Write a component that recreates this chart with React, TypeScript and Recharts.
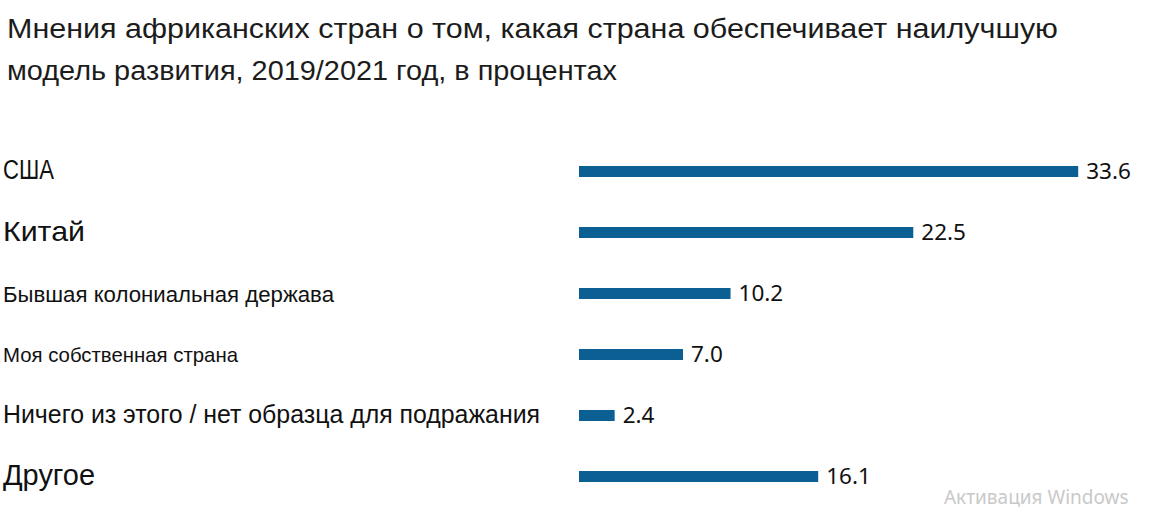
import React from 'react';
import { BarChart, Bar, XAxis, YAxis, LabelList } from 'recharts';

const categories = [
  'США',
  'Китай',
  'Бывшая колониальная держава',
  'Моя собственная страна',
  'Ничего из этого / нет образца для подражания',
  'Другое',
];
const shares = [33.6, 22.5, 10.2, 7.0, 2.4, 16.1];

const titleLines = [
  'Мнения африканских стран о том, какая страна обеспечивает наилучшую',
  'модель развития, 2019/2021 год, в процентах',
];

const data = categories.map((name, i) => ({ name, value: shares[i] }));

// the source image mixes label sizes and widths, so each row gets its own look
const tickLooks = [
  { size: 27, len: 51, dy: 7.5 },
  { size: 28, len: 82, dy: 8.5 },
  { size: 22, len: 331, dy: 8.5 },
  { size: 21, len: 235, dy: 7.5 },
  { size: 25, len: 537, dy: 7.5 },
  { size: 29, len: 92, dy: 8.5 },
];
const titleLooks = [
  { y: 38, len: 1051 },
  { y: 80, len: 610 },
];

const BAR_COLOR = '#0b5f93';
const SANS = '"Liberation Sans", Arial, sans-serif';

const CategoryTick = ({ y, payload, index }: any) => {
  const look = tickLooks[index] || tickLooks[0];
  return (
    <text
      x={3}
      y={y}
      dy={look.dy}
      fill="#111"
      fontFamily={SANS}
      fontSize={look.size}
      textAnchor="start"
      textLength={look.len}
      lengthAdjust="spacingAndGlyphs"
    >
      {payload.value}
    </text>
  );
};

const ValueLabel = ({ x, y, width, height, value }: any) => (
  <text
    x={x + width + 8}
    y={y + height / 2 + 7.5}
    fill="#111"
    fontFamily='"Noto Sans", "Open Sans", sans-serif'
    fontSize={22.5}
  >
    {Number(value).toFixed(1)}
  </text>
);

export default function App() {
  return (
    <div
      style={{
        position: 'absolute',
        left: 0,
        top: 0,
        width: 1150,
        height: 515,
        background: '#fff',
        overflow: 'hidden',
      }}
    >
      <svg
        width={1150}
        height={100}
        style={{ position: 'absolute', left: 0, top: 0 }}
      >
        {titleLines.map((t, i) => (
          <text
            key={t}
            x={7}
            y={titleLooks[i].y}
            fill="#1c1c1c"
            fontFamily={SANS}
            fontSize={27}
            textLength={titleLooks[i].len}
            lengthAdjust="spacingAndGlyphs"
          >
            {t}
          </text>
        ))}
      </svg>
      <div style={{ position: 'absolute', left: 0, top: 0 }}>
        <BarChart
          width={1150}
          height={515}
          data={data}
          layout="vertical"
          margin={{ top: 141, right: 51, bottom: 8, left: 0 }}
        >
          <XAxis type="number" domain={[0, 35]} hide />
          <YAxis
            type="category"
            dataKey="name"
            width={579}
            axisLine={false}
            tickLine={false}
            tick={<CategoryTick />}
          />
          <Bar
            dataKey="value"
            fill={BAR_COLOR}
            barSize={11}
            isAnimationActive={false}
          >
            <LabelList dataKey="value" content={<ValueLabel />} />
          </Bar>
        </BarChart>
      </div>
      <div
        style={{
          position: 'absolute',
          left: 944,
          top: 484,
          fontFamily: '"Noto Sans", "Open Sans", sans-serif',
          fontSize: 19,
          color: '#c9c9c9',
        }}
      >
        Активация Windows
      </div>
    </div>
  );
}
